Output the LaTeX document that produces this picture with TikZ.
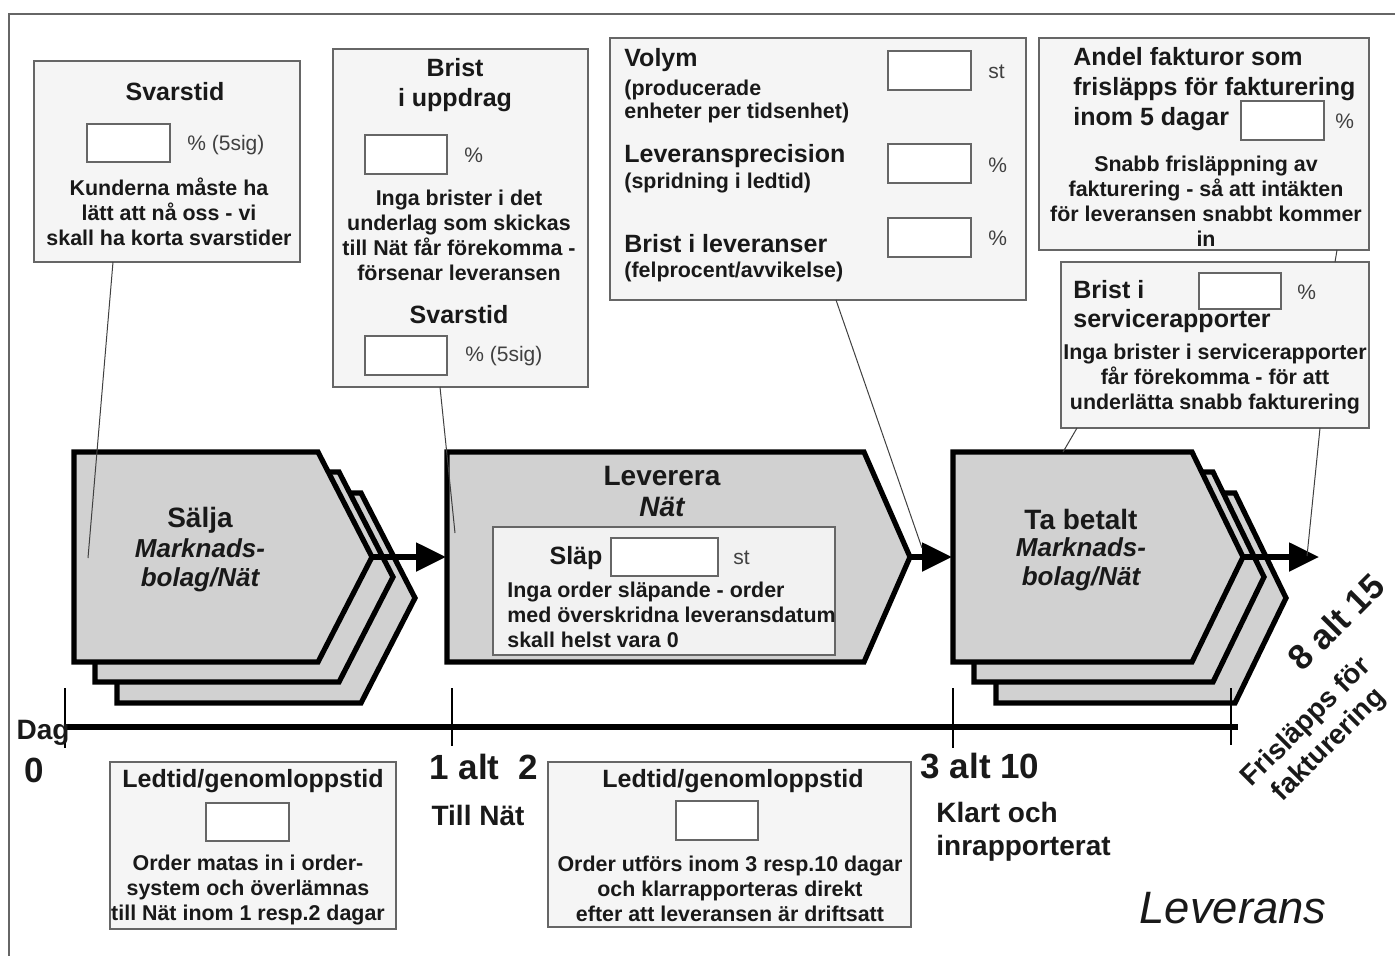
\documentclass[tikz,border=0pt]{standalone}
\usepackage{fontspec}
\setmainfont{Liberation Sans}
\usetikzlibrary{fit,arrows.meta}
\begin{document}
\begin{tikzpicture}[x=0.5pt,y=-0.5pt,
  callout/.style={draw=black!60, fill=black!4, line width=0.7pt, inner sep=0pt},
  inbox/.style={draw=black!60, fill=white, line width=0.75pt, inner sep=0pt},
  proc/.style={draw=black, fill=black!18, line width=2.6pt, line join=miter},
  conn/.style={draw=black!75, line width=0.5pt},
  flow/.style={draw=black, line width=2.6pt, -{Triangle[length=15pt,width=14pt]}},
  tickmark/.style={draw=black, line width=0.6pt},
  body/.style={font=\fontsize{10.7}{12.5}\selectfont\bfseries, align=center, inner sep=0pt, text=black!90},
  head/.style={font=\fontsize{12.5}{15}\selectfont\bfseries, inner sep=0pt, text=black!90},
  unit/.style={font=\fontsize{10.5}{12}\selectfont, inner sep=0pt, text=black!75},
  ptitle/.style={font=\fontsize{14}{16}\selectfont\bfseries, inner sep=0pt, text=black!90},
  psub/.style={font=\fontsize{13}{14.5}\selectfont\bfseries\itshape, align=center, inner sep=0pt, text=black!90},
  big/.style={font=\fontsize{17.5}{20}\selectfont\bfseries, inner sep=0pt, text=black!90},
  mid/.style={font=\fontsize{14}{16.5}\selectfont\bfseries, inner sep=0pt, text=black!90}
]
\useasboundingbox (0,0) rectangle (1395,955);
\draw[black!60, line width=0.8pt] (9,960) -- (9,14) -- (1400,14);

% ---------- callout boxes ----------
\node[callout, fit={(34,61)(300,262)}] (b1) {};
\node[head] (b1h) at (175,92) {Svarstid};
\node[inbox, fit={(87,124)(170,162)}] (b1i) {};
\node[unit, anchor=west] (b1u) at (187,145) {\% (5sig)};
\node[body] (b1t) at (169,212) {Kunderna måste ha\\lätt att nå oss - vi\\skall ha korta svarstider};

\node[callout, fit={(333,49)(588,387)}] (b2) {};
\node[head, align=center] (b2h) at (455,85) {Brist\\i uppdrag};
\node[inbox, fit={(365,135)(447,174)}] (b2i) {};
\node[unit, anchor=west] (b2u) at (464,155) {\%};
\node[body] (b2t) at (459,235) {Inga brister i det\\underlag som skickas\\till Nät får förekomma -\\försenar leveransen};
\node[head] (b2s) at (459,315) {Svarstid};
\node[inbox, fit={(365,336)(447,375)}] (b2j) {};
\node[unit, anchor=west] (b2v) at (465,356) {\% (5sig)};

\node[callout, fit={(610,38)(1026,300)}] (b3) {};
\node[head, anchor=west] (b3a) at (624,60) {Volym};
\node[body, align=left, anchor=west, font=\fontsize{10.7}{11.5}\selectfont\bfseries] (b3b) at (624,101.5) {(producerade\\enheter per tidsenhet)};
\node[inbox, fit={(888,51)(971,90)}] (b3i) {};
\node[unit, anchor=west] (b3u) at (988,72) {st};
\node[head, anchor=west] (b3c) at (624,156) {Leveransprecision};
\node[body, anchor=west] (b3d) at (624,183) {(spridning i ledtid)};
\node[inbox, fit={(888,144)(971,183)}] (b3j) {};
\node[unit, anchor=west] (b3v) at (988,165) {\%};
\node[head, anchor=west] (b3e) at (624,244) {Brist i leveranser};
\node[body, anchor=west] (b3f) at (624,272) {(felprocent/avvikelse)};
\node[inbox, fit={(888,218)(971,257)}] (b3k) {};
\node[unit, anchor=west] (b3w) at (988,238) {\%};

\node[callout, fit={(1039,38)(1369,250)}] (b4) {};
\node[head, align=left, anchor=west] (b4h) at (1073,89) {Andel fakturor som\\frisläpps för fakturering\\inom 5 dagar};
\node[inbox, fit={(1241,101)(1324,140)}] (b4i) {};
\node[unit, anchor=west] (b4u) at (1335,121) {\%};
\node[body] (b4t) at (1206,201.5) {Snabb frisläppning av\\fakturering - så att intäkten\\för leveransen snabbt kommer\\in};

\node[callout, fit={(1061,262)(1369,428)}] (b5) {};
\node[head, align=left, anchor=west, font=\fontsize{12.5}{14.5}\selectfont\bfseries] (b5h) at (1073,306.5) {Brist i\\servicerapporter};
\node[inbox, fit={(1199,273)(1281,309)}] (b5i) {};
\node[unit, anchor=west] (b5u) at (1297,292) {\%};
\node[body] (b5t) at (1215,379) {Inga brister i servicerapporter\\får förekomma - för att\\underlätta snabb fakturering};

\node[callout, fit={(110,762)(396,929)}] (b6) {};
\node[head] (b6h) at (253,781) {Ledtid/genomloppstid};
\node[inbox, fit={(206,803)(289,841)}] (b6i) {};
\node[body] (b6t) at (248,890) {Order matas in i order-\\system och överlämnas\\till Nät inom 1 resp.2 dagar};

\node[callout, fit={(548,762)(911,927)}] (b7) {};
\node[head] (b7h) at (733,781) {Ledtid/genomloppstid};
\node[inbox, fit={(676,801)(758,840)}] (b7i) {};
\node[body] (b7t) at (730,889) {Order utförs inom 3 resp.10 dagar\\och klarrapporteras direkt\\efter att leveransen är driftsatt};

% ---------- process shapes ----------
\begin{scope}[shift={(43,41)}]
  \draw[proc] (74,452) -- (318,452) -- (372,557) -- (318,662) -- (74,662) -- cycle;
\end{scope}
\begin{scope}[shift={(21,20)}]
  \draw[proc] (74,452) -- (318,452) -- (372,557) -- (318,662) -- (74,662) -- cycle;
\end{scope}
\draw[proc] (74,452) -- (318,452) -- (372,557) -- (318,662) -- (74,662) -- cycle;
\coordinate (stip) at (372,557);

\draw[proc] (447,452) -- (864,452) -- (910,557) -- (864,662) -- (447,662) -- cycle;
\coordinate (lwest) at (446,557);
\coordinate (ltip) at (910,557);
\node[callout, fill=black!5, fit={(493,527)(835,655)}] (lin) {};

\begin{scope}[shift={(43,41)}]
  \draw[proc] (953,452) -- (1192,452) -- (1243,557) -- (1192,662) -- (953,662) -- cycle;
\end{scope}
\begin{scope}[shift={(21,20)}]
  \draw[proc] (953,452) -- (1192,452) -- (1243,557) -- (1192,662) -- (953,662) -- cycle;
\end{scope}
\draw[proc] (953,452) -- (1192,452) -- (1243,557) -- (1192,662) -- (953,662) -- cycle;
\coordinate (twest) at (952,557);
\coordinate (ttip) at (1243,557);
\coordinate (tend) at (1319,557);

\draw[flow] (stip) -- (lwest);
\draw[flow] (ltip) -- (twest);
\draw[flow] (ttip) -- (tend);

% process texts
\node[ptitle] (sa) at (200,520) {Sälja};
\node[psub] (sb) at (200,565) {Marknads-\\bolag/Nät};
\node[ptitle] (la) at (662,476) {Leverera};
\node[ptitle, font=\fontsize{14}{16}\selectfont\bfseries\itshape] (lb) at (662,507) {Nät};
\node[head] (lc) at (576,558) {Släp};
\node[inbox, fit={(611,538)(718,576)}] (li) {};
\node[unit, anchor=west] (lu) at (733,558) {st};
\node[body, align=left, anchor=west] (lt) at (507,615) {Inga order släpande - order\\med överskridna leveransdatum\\skall helst vara 0};
\node[ptitle] (ta) at (1081,519) {Ta betalt};
\node[psub] (tb) at (1081,564) {Marknads-\\bolag/Nät};

% ---------- timeline ----------
\coordinate (t0) at (65,727);
\coordinate (t1) at (1238,727);
\draw[line width=2.6pt] (t0) -- (t1);
\draw[tickmark] (65,688) -- (65,748);
\draw[tickmark] (452,688) -- (452,746);
\draw[tickmark] (953,688) -- (953,748);
\draw[tickmark] (1231,688) -- (1231,745);

\node[mid] (dag) at (43,733) {Dag};
\node[big] (d0) at (34,770) {0};
\node[big] (d1) at (484,767) {1 alt\ \ 2};
\node[mid] (d1t) at (478,815) {Till Nät};
\node[big] (d3) at (980,766) {3 alt 10};
\node[mid, align=left, anchor=west] (d3t) at (936,831.5) {Klart och\\inrapporterat};
\node[big, rotate=45] (d8) at (1336,622) {8 alt 15};
\node[mid, align=center, rotate=45, font=\fontsize{14}{16}\selectfont\bfseries] (d8t) at (1318,734) {Frisläpps för\\fakturering};

\node[inner sep=0pt, font=\fontsize{22.7}{26}\selectfont\itshape, text=black!90] (lev) at (1233,908) {Leverans};

% ---------- connectors ----------
\coordinate (c1a) at (113,262); \coordinate (c1b) at (88,558);
\coordinate (c2a) at (440,387); \coordinate (c2b) at (455,533);
\coordinate (c3a) at (836,300); \coordinate (c3b) at (922,548);
\coordinate (c4a) at (1337,250); \coordinate (c4b) at (1335,262);
\coordinate (c5a) at (1077,428); \coordinate (c5b) at (1063,452);
\coordinate (c6a) at (1320,428); \coordinate (c6b) at (1307,556);
\draw[conn] (c1a) -- (c1b);
\draw[conn] (c2a) -- (c2b);
\draw[conn] (c3a) -- (c3b);
\draw[conn] (c4a) -- (c4b);
\draw[conn] (c5a) -- (c5b);
\draw[conn] (c6a) -- (c6b);
\end{tikzpicture}
\end{document}
